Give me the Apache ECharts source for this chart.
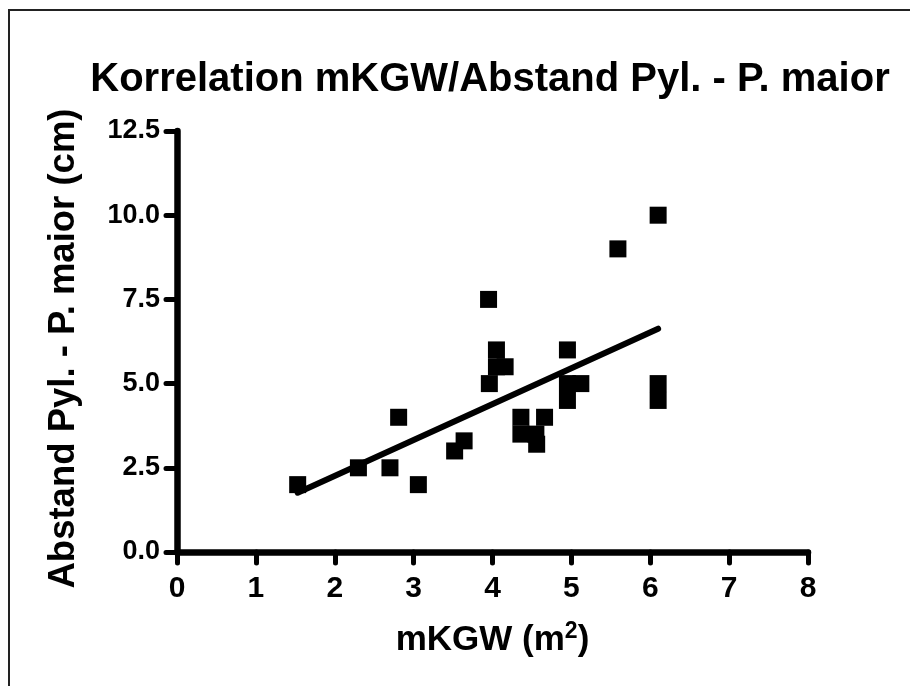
<!DOCTYPE html>
<html>
<head>
<meta charset="utf-8">
<script src="https://cdn.jsdelivr.net/npm/echarts@6/dist/echarts.min.js"></script>
<style>
	html, body { margin: 0; padding: 0; background: #fff; }
	#chart { width: 910px; height: 686px; }
</style>
</head>
<body>
<div id="chart"></div>
<script>
// mKGW (m2) und Abstand Pyl. - P. maior (cm)
var mkgw = [1.53, 2.30, 2.70, 2.81, 3.06, 3.52, 3.64, 3.95, 3.96, 4.05, 4.05, 4.16, 4.36,
	4.36, 4.55, 4.56, 4.66, 4.95, 4.95, 4.95, 5.12, 5.59, 6.10, 6.10, 6.10];
var abstand = [2.0, 2.5, 2.5, 4.0, 2.0, 3.0, 3.3, 7.5, 5.0, 6.0, 5.5, 5.5, 4.0,
	3.5, 3.5, 3.2, 4.0, 6.0, 5.0, 4.5, 5.0, 9.0, 10.0, 5.0, 4.5];
// Regressionsgerade (Endpunkte)
var fitX = [1.53, 6.10];
var fitY = [1.76, 6.63];

var xTicks = [0, 1, 2, 3, 4, 5, 6, 7, 8];
var yTicks = [0, 2.5, 5, 7.5, 10, 12.5];

var FONT = "'Liberation Sans', Arial, sans-serif";

var chart = echarts.init(document.getElementById("chart"));

var points = [];
for (var i = 0; i < mkgw.length; i++) {
	points.push([mkgw[i], abstand[i]]);
}
var fit = [];
for (var j = 0; j < fitX.length; j++) {
	fit.push([fitX[j], fitY[j]]);
}

chart.setOption({
	animation : false,
	backgroundColor : "#fff",
	title : {
		text : "Korrelation mKGW/Abstand Pyl. - P. maior",
		left : 485,
		top : 55,
		textAlign : "center",
		textStyle : {
			fontFamily : FONT,
			fontWeight : "bold",
			fontSize : 40,
			color : "#000"
		}
	},
	graphic : [ {
		// Rahmen (nur oben/links sichtbar)
		type : "rect",
		shape : { x : 9, y : 10, width : 1000, height : 1000 },
		style : { fill : "none", stroke : "#222", lineWidth : 2 },
		silent : true
	} ],
	grid : {
		left : 177,
		right : 102,
		top : 131,
		bottom : 134,
		containLabel : false
	},
	xAxis : {
		type : "value",
		min : xTicks[0],
		max : xTicks[xTicks.length - 1],
		interval : 1,
		axisLine : {
			show : true,
			lineStyle : { color : "#000", width : 6.5, cap : "round" }
		},
		axisTick : {
			show : true,
			inside : false,
			length : 11,
			lineStyle : { color : "#000", width : 5, cap : "round" }
		},
		splitLine : { show : false },
		name : "{n|mKGW (m}{s|2}{n|)}",
		nameLocation : "middle",
		nameGap : 68,
		nameTextStyle : {
			rich : {
				n : { fontFamily : FONT, fontWeight : "bold", fontSize : 35, color : "#000", lineHeight : 40 },
				s : { fontFamily : FONT, fontWeight : "bold", fontSize : 23, color : "#000", verticalAlign : "top" }
			}
		},
		axisLabel : {
			margin : 22,
			fontFamily : FONT,
			fontWeight : "bold",
			fontSize : 30,
			color : "#000"
		}
	},
	yAxis : {
		type : "value",
		min : yTicks[0],
		max : yTicks[yTicks.length - 1],
		interval : 2.5,
		axisLine : {
			show : true,
			lineStyle : { color : "#000", width : 6.5, cap : "round" }
		},
		axisTick : {
			show : true,
			inside : false,
			length : 11,
			lineStyle : { color : "#000", width : 5, cap : "round" }
		},
		splitLine : { show : false },
		name : "Abstand Pyl. - P. maior (cm)",
		nameLocation : "middle",
		nameGap : 95,
		nameTextStyle : {
			fontFamily : FONT,
			fontWeight : "bold",
			fontSize : 36.5,
			color : "#000",
			padding : [ 0, 14, 0, 0 ]
		},
		axisLabel : {
			margin : 17,
			fontFamily : FONT,
			fontWeight : "bold",
			fontSize : 27,
			color : "#000",
			formatter : function(v) {
				return v.toFixed(1);
			}
		}
	},
	series : [ {
		type : "scatter",
		symbol : "rect",
		symbolSize : 17,
		itemStyle : { color : "#000", opacity : 1 },
		data : points,
		z : 3
	}, {
		type : "line",
		symbol : "none",
		lineStyle : { color : "#000", width : 6, cap : "round" },
		data : fit,
		z : 4
	} ]
});
</script>
</body>
</html>
